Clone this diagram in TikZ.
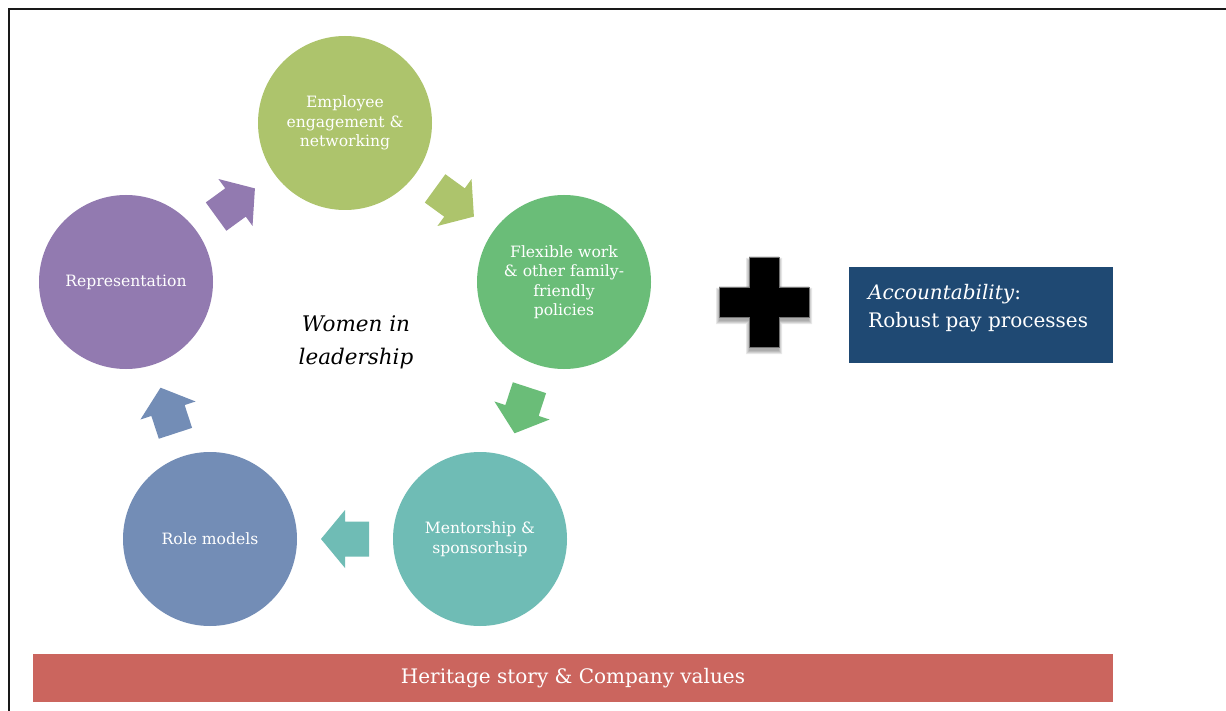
\documentclass[tikz,border=0pt]{standalone}
\usepackage{fontspec}
\setmainfont{DejaVu Serif}
\usetikzlibrary{calc}

\definecolor{cEmp}{HTML}{ADC46C}
\definecolor{cFlex}{HTML}{6ABD78}
\definecolor{cMent}{HTML}{6FBCB5}
\definecolor{cRole}{HTML}{738DB6}
\definecolor{cRep}{HTML}{927AB0}
\definecolor{cAcc}{HTML}{1F4973}
\definecolor{cHer}{HTML}{CB655E}

% block arrow halfway between two circles, pointing from #1 to #2
\newcommand{\cyclearrow}[4]{%
  \coordinate (#4) at ($(#1)!0.5!(#2)$);
  \coordinate (#4-t) at ($(#4)!24pt!(#2)$);
  \coordinate (#4-b) at ($(#4)!24pt!180:(#2)$);
  \fill[#3] ($(#4-b)!17.5pt!90:(#4)$) -- ($(#4)!17.5pt!-90:(#4-b)$)
    -- ($(#4)!29pt!-90:(#4-b)$) -- (#4-t) -- ($(#4)!29pt!90:(#4-b)$)
    -- ($(#4)!17.5pt!90:(#4-b)$) -- ($(#4-b)!17.5pt!-90:(#4)$) -- cycle;
}

% outline of the plus sign, grown by #1 on every side
\newcommand{\plusoutline}[1]{%
  (749-#1,257-#1) -- (779+#1,257-#1) -- (779+#1,287-#1) -- (809+#1,287-#1)
  -- (809+#1,317+#1) -- (779+#1,317+#1) -- (779+#1,347+#1) -- (749-#1,347+#1)
  -- (749-#1,317+#1) -- (719-#1,317+#1) -- (719-#1,287-#1) -- (749-#1,287-#1) -- cycle}

\begin{document}
\begin{tikzpicture}[x=1pt,y=-1pt,
  bubble/.style={circle, minimum size=174pt, inner sep=0pt, text=white,
    align=center, font=\fontsize{15.6}{19.4}\selectfont},
  whitetext/.style={text=white, inner sep=0pt}
]
\useasboundingbox (0,0) rectangle (1226,711);
\fill[white] (0,0) rectangle (1226,711);

% outer frame (runs off the right and bottom edges)
\draw[line width=2.2pt, color=black!90] (9,711) -- (9,9) -- (1226,9);

% cycle of circles
\node[bubble, fill=cEmp]  (emp)  at (345,123) {Employee\\engagement \&\\networking};
\node[bubble, fill=cFlex] (flex) at (564,282) {Flexible work\\\& other family-\\friendly\\policies};
\node[bubble, fill=cMent] (ment) at (480,539) {Mentorship \&\\sponsorhsip};
\node[bubble, fill=cRole] (role) at (210,539) {Role models};
\node[bubble, fill=cRep]  (rep)  at (126,282) {Representation};

% arrows between the circles
\cyclearrow{emp}{flex}{cEmp}{a1}
\cyclearrow{flex}{ment}{cFlex}{a2}
\cyclearrow{ment}{role}{cMent}{a3}
\cyclearrow{role}{rep}{cRole}{a4}
\cyclearrow{rep}{emp}{cRep}{a5}

% centre caption
\node[font=\itshape\fontsize{21.5}{33}\selectfont, align=center] (wil) at (356,342) {Women in\\leadership};

% plus sign with a soft shadow below it
\foreach \e in {3,2,1,0} {
  \fill[black, opacity=0.09, shift={(0,4)}] \plusoutline{\e};
}
\filldraw[fill=black, draw=black!55, line width=0.8pt] \plusoutline{0};

% accountability box
\node[fill=cAcc, minimum width=264pt, minimum height=96pt, inner sep=0pt] (acct) at (981,315) {};
\node[whitetext, anchor=base west, font=\fontsize{20}{27}\selectfont] (acctA) at (868,300) {\textit{Accountability}:};
\node[whitetext, anchor=base west, font=\fontsize{20}{27}\selectfont] (acctB) at (868,327) {Robust pay processes};

% foundation bar
\node[fill=cHer, minimum width=1080pt, minimum height=48pt, inner sep=0pt, text=white,
  font=\fontsize{20}{24}\selectfont] (heritage) at (573,678) {Heritage story \& Company values};
\end{tikzpicture}
\end{document}
